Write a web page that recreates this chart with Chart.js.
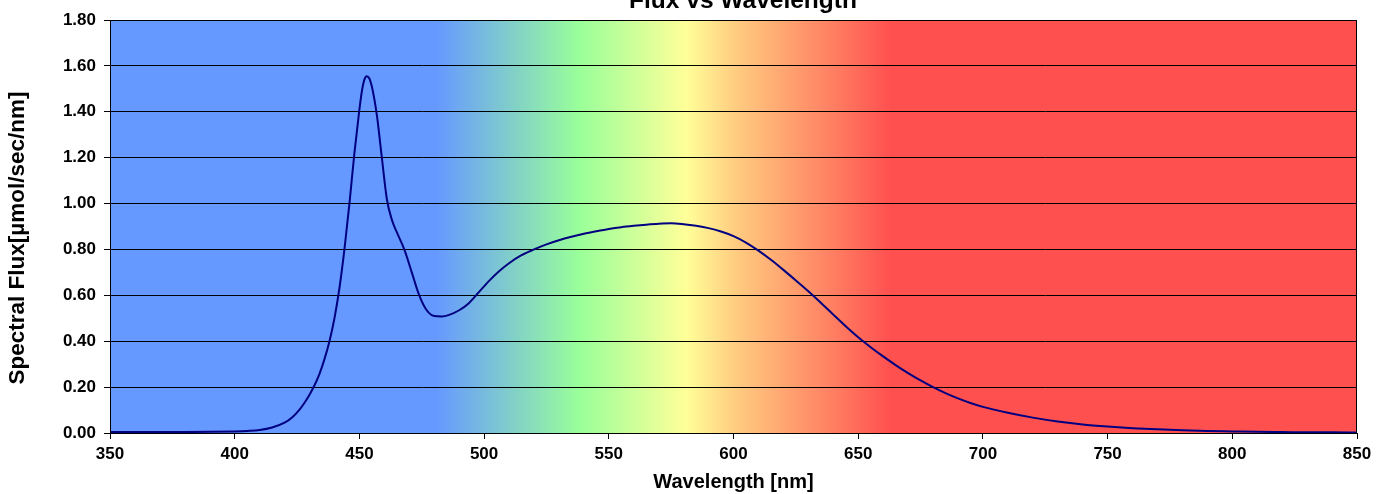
<!DOCTYPE html>
<html>
<head>
<meta charset="utf-8">
<script src="https://cdn.jsdelivr.net/npm/chart.js@4.4.1/dist/chart.umd.min.js"></script>
<style>
html,body{margin:0;padding:0;background:#fff;}
#wrap{position:relative;width:1388px;height:494px;}
</style>
</head>
<body>
<div id="wrap"><canvas id="c" width="1388" height="494"></canvas></div>
<script>
const chartTitle = 'Flux vs Wavelength';
const xTitle = 'Wavelength [nm]';
const yTitle = 'Spectral Flux[µmol/sec/nm]';

const wavelengths = [350,360,370,380,390,400,405,410,415,420,423,426,428,430,432,434,436,438,440,442,444,446,448,450,451,452,453,454,455,457,459,461,463,465,468,471,474,477,480,483,486,490,494,498,502,506,510,515,520,525,530,535,540,545,550,555,560,565,570,575,580,585,590,595,600,605,610,615,620,625,630,635,640,645,650,655,660,665,670,675,680,685,690,695,700,710,720,730,740,750,760,770,780,790,800,810,820,830,840,850];
const flux = [0.004,0.004,0.004,0.004,0.005,0.007,0.009,0.013,0.024,0.045,0.068,0.102,0.132,0.167,0.208,0.258,0.322,0.400,0.500,0.632,0.800,1.000,1.220,1.410,1.490,1.540,1.555,1.545,1.510,1.385,1.200,1.020,0.930,0.875,0.800,0.700,0.600,0.535,0.510,0.508,0.515,0.535,0.567,0.615,0.663,0.705,0.740,0.775,0.800,0.822,0.840,0.855,0.868,0.879,0.889,0.897,0.903,0.908,0.912,0.914,0.910,0.903,0.893,0.878,0.858,0.830,0.795,0.755,0.711,0.665,0.618,0.568,0.516,0.465,0.417,0.374,0.334,0.296,0.261,0.229,0.200,0.174,0.151,0.131,0.114,0.088,0.067,0.050,0.037,0.028,0.021,0.016,0.012,0.009,0.007,0.005,0.004,0.003,0.003,0.002];

const xTicks = [350,400,450,500,550,600,650,700,750,800,850];
const yTicks = [0,0.2,0.4,0.6,0.8,1.0,1.2,1.4,1.6,1.8];

// spectrum background stops: [wavelength, colour]
const spectrumNm = [350,481,538,581,601,663,850];
const spectrumColors = ['#6699FF','#6699FF','#99FF99','#FFFF99','#FFCC80','#FF5050','#FF5050'];

const FONT = "'Liberation Sans', Arial, sans-serif";

const bgPlugin = {
  id: 'spectrumBg',
  beforeDraw(chart) {
    const {ctx, chartArea: a, scales: {x}} = chart;
    const x0 = x.getPixelForValue(spectrumNm[0]);
    const x1 = x.getPixelForValue(spectrumNm[spectrumNm.length-1]);
    const g = ctx.createLinearGradient(x0, 0, x1, 0);
    spectrumNm.forEach((nm, i) => {
      g.addColorStop((x.getPixelForValue(nm) - x0) / (x1 - x0), spectrumColors[i]);
    });
    ctx.save();
    ctx.fillStyle = g;
    ctx.fillRect(a.left, a.top, a.right - a.left, a.bottom - a.top);
    ctx.restore();
  },
  afterDraw(chart) {
    const {ctx, chartArea: a} = chart;
    ctx.save();
    ctx.strokeStyle = '#000';
    ctx.lineWidth = 1;
    ctx.strokeRect(Math.round(a.left) + 0.5, Math.round(a.top) + 0.5, Math.round(a.right - a.left) - 1, Math.round(a.bottom - a.top));
    ctx.fillStyle = '#000';
    ctx.font = "bold 24.5px " + FONT;
    ctx.textAlign = 'center';
    ctx.textBaseline = 'alphabetic';
    ctx.fillText(chartTitle, 743, 8);
    // y axis title
    ctx.translate(18, 238);
    ctx.rotate(-Math.PI / 2);
    ctx.font = "bold 22.5px " + FONT;
    ctx.textBaseline = 'middle';
    ctx.fillText(yTitle, 0, 0);
    ctx.restore();
  }
};

new Chart(document.getElementById('c'), {
  type: 'line',
  data: {
    datasets: [{
      data: wavelengths.map((w, i) => ({x: w, y: flux[i]})),
      borderColor: '#000080',
      borderWidth: 2,
      pointRadius: 0,
      cubicInterpolationMode: 'monotone',
      fill: false
    }]
  },
  options: {
    responsive: false,
    animation: false,
    devicePixelRatio: 1,
    layout: {padding: {top: 20, right: 31, left: 0, bottom: 0}},
    plugins: {legend: {display: false}, tooltip: {enabled: false}, title: {display: false}},
    scales: {
      x: {
        type: 'linear', min: 350, max: 850,
        afterBuildTicks(s) { s.ticks = xTicks.map(v => ({value: v})); },
        afterFit(s) { s.height = 61; },
        grid: {drawOnChartArea: false, color: '#000', tickLength: 6, lineWidth: 1},
        border: {color: '#000', width: 1},
        ticks: {color: '#000', font: {family: FONT, size: 17, weight: 'bold'}, padding: 5, maxRotation: 0, autoSkip: false},
        title: {display: true, text: xTitle, color: '#000', font: {family: FONT, size: 20, weight: 'bold'}, padding: {top: 0, bottom: 0}}
      },
      y: {
        min: 0, max: 1.8,
        afterBuildTicks(s) { s.ticks = yTicks.map(v => ({value: v})); },
        afterFit(s) { s.width = 110; },
        grid: {color: '#000', tickLength: 6, lineWidth: 1},
        border: {color: '#000', width: 1},
        ticks: {color: '#000', font: {family: FONT, size: 17, weight: 'bold'}, padding: 8, callback: v => v.toFixed(2)},
        title: {display: false}
      }
    }
  },
  plugins: [bgPlugin]
});
</script>
</body>
</html>
